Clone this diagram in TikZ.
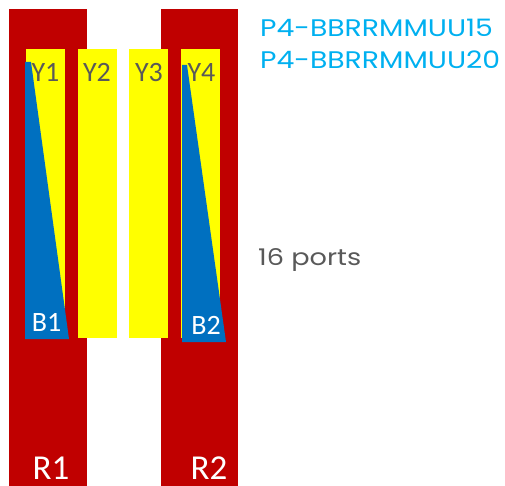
\documentclass[tikz,border=0pt]{standalone}
\usepackage{fontspec}
\setmainfont{Carlito}
\newfontfamily\labelfont[FakeStretch=1.18]{Poppins}
\definecolor{rackred}{HTML}{C00000}
\definecolor{slotyellow}{HTML}{FFFF00}
\definecolor{fillblue}{HTML}{0070C0}
\definecolor{labelgray}{HTML}{595959}
\definecolor{codeblue}{HTML}{00B0F0}
\tikzset{
  rack/.style={fill=rackred, draw=none},
  slot/.style={fill=slotyellow, draw=none},
  wedge/.style={fill=fillblue, draw=none},
  ylabel/.style={anchor=base, inner sep=0pt, text=labelgray, font=\fontsize{28}{30}\selectfont},
  blabel/.style={anchor=base, inner sep=0pt, text=white, font=\fontsize{28}{30}\selectfont},
  rlabel/.style={anchor=base, inner sep=0pt, text depth=0pt, text=white, font=\fontsize{35}{38}\selectfont},
  code/.style={anchor=base west, inner sep=0pt, text=codeblue, font=\labelfont\fontsize{24}{28}\selectfont},
  note/.style={anchor=base west, inner sep=0pt, text=labelgray, font=\labelfont\fontsize{23}{27}\selectfont}
}
\begin{document}
\begin{tikzpicture}[x=1pt, y=-1pt]
\useasboundingbox (0,0) rectangle (505,486);
% red racks
\fill[rack] (9,9) rectangle (87,486);
\fill[rack] (161,9) rectangle (238,486);
% yellow slots
\fill[slot] (26,49) rectangle (65,338);
\fill[slot] (78,49) rectangle (117,338);
\fill[slot] (129,49) rectangle (168,338);
\fill[slot] (181,49) rectangle (220,338);
% blue wedges
\fill[wedge] (25,62) -- (31,62) -- (69,339) -- (25,339) -- cycle;
\fill[wedge] (182,65) -- (187,65) -- (226,342) -- (182,342) -- cycle;
% labels
\node[ylabel] (y1) at (45.5,82) {Y1};
\node[ylabel] (y2) at (97,82) {Y2};
\node[ylabel] (y3) at (149,82) {Y3};
\node[ylabel] (y4) at (201.5,82) {Y4};
\node[blabel] (b1) at (46.5,331) {B1};
\node[blabel] (b2) at (206,334) {B2};
\node[rlabel] (r1) at (51,479) {R1};
\node[rlabel] (r2) at (209,479) {R2};
\node[code] (c1) at (260,37) {P4-BBRRMMUU15};
\node[code] (c2) at (260,69) {P4-BBRRMMUU20};
\node[note] (ports) at (258,265) {16 ports};
\end{tikzpicture}
\end{document}
